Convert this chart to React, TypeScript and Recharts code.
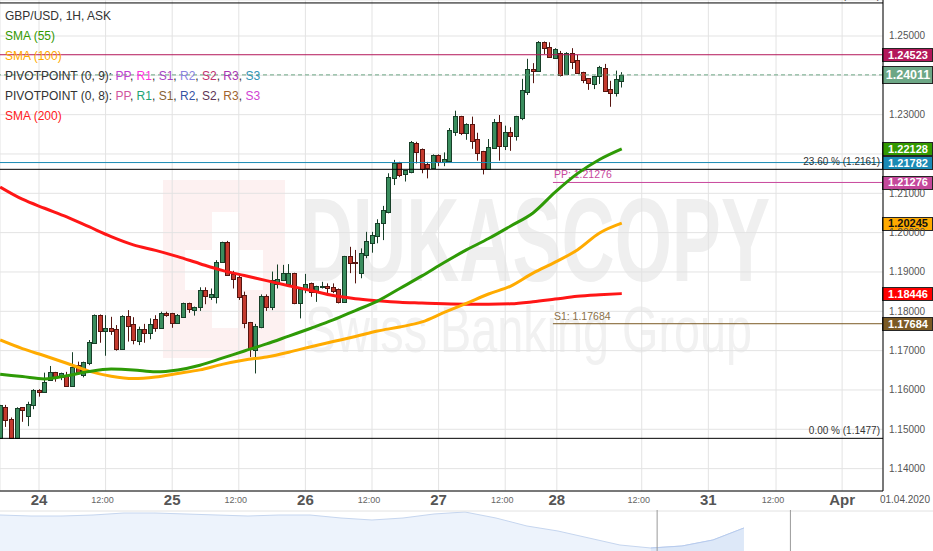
import React from 'react';
import {
  ComposedChart,
  Bar,
  Line,
  XAxis,
  YAxis,
  CartesianGrid,
  ReferenceLine,
  AreaChart,
  Area,
} from 'recharts';

const FONT = "'Liberation Sans', Arial, sans-serif";
const NARROW = "'Liberation Sans Narrow', 'Liberation Sans', Arial, sans-serif";

// hourly candles, first one sits 7 hours before the "24" tick
const FIRST_HOUR = -7;

const opens = [
  1.1477, 1.1557, 1.1526, 1.1478, 1.1556, 1.1534, 1.1562, 1.16, 1.1595, 1.1625,
  1.1645, 1.1632, 1.1638, 1.161, 1.1663, 1.1638, 1.1668, 1.1719, 1.179, 1.1751,
  1.1757, 1.1754, 1.1704, 1.1788, 1.1767, 1.1725, 1.1755, 1.1746, 1.178, 1.1758,
  1.1796, 1.1795, 1.1769, 1.1786, 1.182, 1.1803, 1.181, 1.1854, 1.1837, 1.1837,
  1.1925, 1.1977, 1.1895, 1.1886, 1.1841, 1.1772, 1.1701, 1.1759, 1.184, 1.181,
  1.1869, 1.188, 1.1869, 1.1897, 1.182, 1.1856, 1.1871, 1.185, 1.1861, 1.1865,
  1.1862, 1.1856, 1.1824, 1.1941, 1.1925, 1.1898, 1.1943, 1.1974, 1.1991, 1.2024,
  1.2053, 1.214, 1.2176, 1.2148, 1.2155, 1.2229, 1.2212, 1.2175, 1.2164, 1.2197,
  1.218, 1.2183, 1.2257, 1.2297, 1.2254, 1.2276, 1.2238, 1.2208, 1.2162, 1.2214,
  1.2282, 1.222, 1.2255, 1.2246, 1.2291, 1.2358, 1.2415, 1.2412, 1.2484, 1.2471,
  1.2443, 1.2456, 1.2403, 1.2456, 1.2439, 1.2409, 1.2392, 1.2377, 1.2397, 1.2418,
  1.2364, 1.2354, 1.2386,
];
const highs = [
  1.1562, 1.1562, 1.153, 1.1556, 1.1556, 1.157, 1.1602, 1.1602, 1.1644, 1.1661,
  1.1646, 1.1644, 1.1646, 1.1696, 1.1672, 1.1672, 1.1727, 1.1792, 1.1792, 1.179,
  1.1786, 1.1765, 1.179, 1.1803, 1.1785, 1.1761, 1.1768, 1.1782, 1.179, 1.1799,
  1.1799, 1.1796, 1.1793, 1.1822, 1.1822, 1.1812, 1.1861, 1.1861, 1.1858, 1.193,
  1.1977, 1.1979, 1.1903, 1.1892, 1.185, 1.1773, 1.1768, 1.1843, 1.1843, 1.1901,
  1.1919, 1.1918, 1.192, 1.1898, 1.1861, 1.1895, 1.1873, 1.1865, 1.1875, 1.1871,
  1.1871, 1.1858, 1.1941, 1.1964, 1.1956, 1.196, 1.2002, 1.2002, 1.2034, 1.2068,
  1.2151, 1.2185, 1.218, 1.2159, 1.2233, 1.2231, 1.2214, 1.218, 1.2199, 1.2199,
  1.2204, 1.2266, 1.231, 1.2297, 1.2278, 1.2295, 1.2254, 1.2208, 1.2238, 1.2289,
  1.2299, 1.2272, 1.2268, 1.2297, 1.2391, 1.2442, 1.2431, 1.2487, 1.2486, 1.2484,
  1.2469, 1.2462, 1.2459, 1.2469, 1.2452, 1.2409, 1.2392, 1.2399, 1.2424, 1.2429,
  1.2386, 1.2412, 1.2408,
];
const lows = [
  1.1477, 1.1506, 1.1477, 1.1477, 1.1519, 1.1508, 1.1551, 1.1583, 1.1595, 1.1623,
  1.1621, 1.1625, 1.1608, 1.161, 1.1642, 1.1632, 1.1663, 1.1717, 1.172, 1.1687,
  1.174, 1.17, 1.1704, 1.1723, 1.1716, 1.1714, 1.172, 1.1729, 1.1748, 1.1758,
  1.1786, 1.1758, 1.1768, 1.1786, 1.1796, 1.1789, 1.1801, 1.1818, 1.1829, 1.182,
  1.1925, 1.189, 1.1858, 1.1829, 1.1757, 1.1684, 1.1642, 1.1757, 1.1801, 1.1803,
  1.1858, 1.1878, 1.1862, 1.1818, 1.1782, 1.1846, 1.1837, 1.1824, 1.1858, 1.1846,
  1.1846, 1.182, 1.1824, 1.1897, 1.1871, 1.1884, 1.1935, 1.1949, 1.1973, 1.1981,
  1.2049, 1.2121, 1.2141, 1.213, 1.2151, 1.2176, 1.2151, 1.2138, 1.2162, 1.2169,
  1.2169, 1.218, 1.2246, 1.2248, 1.2236, 1.2213, 1.2183, 1.2148, 1.2162, 1.2213,
  1.2183, 1.221, 1.2208, 1.2234, 1.2286, 1.235, 1.238, 1.2412, 1.2454, 1.2447,
  1.2442, 1.2397, 1.2401, 1.2416, 1.2405, 1.238, 1.2363, 1.2365, 1.2378, 1.2361,
  1.232, 1.2346, 1.2369,
];
const closes = [
  1.1562, 1.1523, 1.1478, 1.1553, 1.1549, 1.1564, 1.16, 1.1595, 1.1619, 1.1645,
  1.163, 1.1642, 1.161, 1.1659, 1.1646, 1.167, 1.1723, 1.179, 1.1751, 1.1757,
  1.175, 1.1704, 1.1788, 1.1763, 1.1727, 1.1755, 1.1746, 1.1767, 1.1758, 1.1796,
  1.179, 1.1769, 1.179, 1.182, 1.1805, 1.181, 1.1854, 1.1839, 1.1844, 1.1926,
  1.1975, 1.1892, 1.1882, 1.1837, 1.1769, 1.1704, 1.1763, 1.184, 1.181, 1.188,
  1.1881, 1.1898, 1.1897, 1.182, 1.1856, 1.1869, 1.185, 1.1864, 1.1864, 1.1858,
  1.1852, 1.1824, 1.1941, 1.1922, 1.1922, 1.1947, 1.1979, 1.1994, 1.2025, 1.2058,
  1.2141, 1.2178, 1.2147, 1.2159, 1.2231, 1.2206, 1.2161, 1.2164, 1.2197, 1.218,
  1.2187, 1.2261, 1.2297, 1.2254, 1.2276, 1.2234, 1.2202, 1.2162, 1.2217, 1.2282,
  1.222, 1.2257, 1.2246, 1.2297, 1.2363, 1.2416, 1.2412, 1.2484, 1.2469, 1.2447,
  1.2466, 1.2401, 1.2456, 1.2435, 1.2407, 1.2388, 1.238, 1.2399, 1.242, 1.2361,
  1.2354, 1.2391, 1.2401,
];

// moving averages read every 4 hours
const smaHours = [
  -7, -3, 1, 5, 9, 13, 17, 21, 25, 29, 33, 37, 41, 45, 49, 53, 57, 61, 65, 69, 73, 77, 81, 85,
  89, 93, 97, 101, 105,
];
const sma55 = [
  1.164, 1.1634, 1.1628, 1.1636, 1.1647, 1.1653, 1.1651, 1.1646, 1.1651, 1.1663, 1.1681,
  1.1699, 1.1717, 1.1737, 1.1757, 1.1778, 1.1802, 1.1826, 1.1858, 1.189, 1.1924, 1.1956,
  1.1985, 1.2017, 1.205, 1.2103, 1.215, 1.2186, 1.2213,
];
const sma100 = [
  1.1727, 1.1705, 1.1687, 1.1668, 1.1648, 1.1635, 1.1629, 1.1633, 1.1642, 1.1651, 1.1665,
  1.1676, 1.1684, 1.1696, 1.171, 1.1723, 1.1736, 1.175, 1.176, 1.1773, 1.1797, 1.182,
  1.1844, 1.1864, 1.1897, 1.1925, 1.1956, 1.1999, 1.2024,
];
const sma200 = [
  1.2116, 1.2085, 1.2062, 1.204, 1.2015, 1.199, 1.1969, 1.1955, 1.1939, 1.1921, 1.1904,
  1.1891, 1.1878, 1.1865, 1.1853, 1.184, 1.1832, 1.1827, 1.1823, 1.1821, 1.1819, 1.1818,
  1.1818, 1.1819, 1.1824, 1.1831, 1.1838, 1.1842, 1.1845,
];

const xTickHours = [0, 12, 24, 36, 48, 60, 72, 84, 93.3, 108.6, 120.6, 132.8, 144.7];
const xTickLabels = ['24', '12:00', '25', '12:00', '26', '12:00', '27', '12:00', '28', '12:00', '31', '12:00', 'Apr'];
const priceTicks = [1.14, 1.15, 1.16, 1.17, 1.18, 1.19, 1.2, 1.21, 1.22, 1.23, 1.24, 1.25];

const X_DOMAIN = [-7.027, 152.07];
const Y_DOMAIN = [1.13431, 1.25915];

// levels
const fibHigh = 1.2584;
const fib236 = 1.2161;
const fibLow = 1.1477;
const resistance = 1.24523;
const lastPrice = 1.24011;
const blueLevel = 1.21782;
const pivotPP = 1.21276;
const pivotS1 = 1.17684;
const pivotStartHour = 92.6;
const sma55Last = 1.22128;
const sma100Last = 1.20245;
const sma200Last = 1.18446;
const boxValues = [resistance, lastPrice, sma55Last, blueLevel, pivotPP, sma100Last, sma200Last, pivotS1];

// navigator strip at the bottom
const navValues = [36, 35, 35, 36, 38, 38, 37, 36, 35, 36, 36, 33, 31, 33, 37, 39, 33, 25, 20, 13, 6, 3, 5, 11, 23];
const navWindow = [21.2, 25.5];
const NAV_SPAN = 30.1;

const rows = opens.map((open, i) => ({
  h: FIRST_HOUR + i,
  open,
  high: highs[i],
  low: lows[i],
  close: closes[i],
}));

const smaRows = smaHours.map((h, i) => ({
  h,
  sma55: sma55[i],
  sma100: sma100[i],
  sma200: sma200[i],
}));

const navRows = navValues.map((v, i) => ({ i, v, sel: i >= 21 ? v : null }));

function Candle(props: any) {
  const { x, y, width, height, payload } = props;
  if (!payload || height == null) return null;
  const { open, close, high, low } = payload;
  const top = Math.min(y, y + height);
  const span = Math.abs(height);
  const range = high - low || 1;
  const py = (v: number) => top + ((high - v) / range) * span;
  const up = close >= open;
  const c = Math.round(x + width / 2);
  const bTop = Math.round(py(Math.max(open, close))) + 0.5;
  const bBot = Math.max(bTop + 1, Math.round(py(Math.min(open, close))) + 0.5);
  const dark = up ? '#173f28' : '#561510';
  return (
    <g>
      <line x1={c + 0.5} x2={c + 0.5} y1={top} y2={top + span} stroke={dark} strokeWidth={1} />
      <rect
        x={c - 1.5}
        y={bTop}
        width={4}
        height={bBot - bTop}
        fill={up ? '#3a8d5e' : '#c43a2e'}
        stroke={dark}
        strokeWidth={1}
      />
    </g>
  );
}

function TimeTick(props: any) {
  const { x, y, payload } = props;
  const idx = xTickHours.indexOf(payload.value);
  const label = xTickLabels[idx];
  if (label === '12:00') {
    return (
      <text x={x - 3} y={y + 12} textAnchor="middle" fontSize={9} fill="#666" fontFamily={FONT}>
        {label}
      </text>
    );
  }
  return (
    <text x={x} y={y + 14} textAnchor="middle" fontSize={15} fontWeight="bold" fill="#555" fontFamily={NARROW}>
      {label}
    </text>
  );
}

function PriceTick(props: any) {
  const { x, y, payload } = props;
  const v = payload.value;
  if (boxValues.some((b) => Math.abs(b - v) < 0.0016)) return null;
  return (
    <text x={x} y={y + 3.5} fontSize={10} fill="#555" fontFamily={FONT}>
      {v.toFixed(5)}
    </text>
  );
}

function LevelLabel(props: any) {
  const { viewBox, value, boxFill, boxInk, big, tag, tagColor, tagEnd } = props;
  if (!viewBox) return null;
  const right = viewBox.x + viewBox.width;
  const y = viewBox.y;
  const bh = big ? 17 : 13;
  return (
    <g>
      {tag ? (
        <text
          x={tagEnd ? right - 3 : viewBox.x + 1}
          y={y - 4}
          textAnchor={tagEnd ? 'end' : 'start'}
          fontSize={tagEnd ? 10 : 10.5}
          fill={tagColor}
          fontFamily={FONT}
        >
          {tag}
        </text>
      ) : null}
      {boxFill ? (
        <g>
          <rect x={right - 0.5} y={Math.round(y - bh / 2) + 0.5} width={50} height={bh} fill={boxFill} stroke="#262626" />
          <text
            x={right + 25}
            y={y + (big ? 4.5 : 4)}
            textAnchor="middle"
            fontSize={big ? 12.5 : 11}
            fontWeight="bold"
            fill={boxInk || '#fff'}
            fontFamily={FONT}
          >
            {value.toFixed(5)}
          </text>
        </g>
      ) : null}
    </g>
  );
}

function Watermark() {
  return (
    <svg width={933} height={491} style={{ position: 'absolute', left: 0, top: 0 }}>
      <rect x={163} y={180} width={122} height={178} fill="#fdf1f1" />
      <rect x={212} y={212} width={26} height={116} fill="#fff" />
      <rect x={185} y={250} width={78} height={40} fill="#fff" />
      <text x={300} y={281} fontSize={118} fontWeight="bold" fill="#efefef" fontFamily={FONT} textLength={470} lengthAdjust="spacingAndGlyphs">
        DUKASCOPY
      </text>
      <text x={305} y={352} fontSize={64} fill="#f1f1f1" fontFamily={FONT} textLength={447} lengthAdjust="spacingAndGlyphs">
        Swiss Banking Group
      </text>
    </svg>
  );
}

const piv9 = [
  ['PP', '#c043d0'],
  ['R1', '#ff33dd'],
  ['S1', '#a745c4'],
  ['R2', '#8a85e0'],
  ['S2', '#c03470'],
  ['R3', '#a836b0'],
  ['S3', '#3193b5'],
];
const piv8 = [
  ['PP', '#d0559f'],
  ['R1', '#22a374'],
  ['S1', '#866232'],
  ['R2', '#3553a3'],
  ['S2', '#5e3556'],
  ['R3', '#a0642e'],
  ['S3', '#d043d3'],
];

function PivotLegend({ y, head, items }: { y: number; head: string; items: string[][] }) {
  return (
    <text x={5} y={y} fontSize={12} fontFamily={FONT} fill="#333">
      <tspan>{head}</tspan>
      {items.map(([name, color], i) => (
        <React.Fragment key={name}>
          <tspan fill={color}>{name}</tspan>
          {i < items.length - 1 ? <tspan>, </tspan> : null}
        </React.Fragment>
      ))}
    </text>
  );
}

function Legend() {
  return (
    <svg width={400} height={130} style={{ position: 'absolute', left: 0, top: 0, pointerEvents: 'none' }}>
      <text x={5} y={20} fontSize={12} fontFamily={FONT} fill="#333">GBP/USD, 1H, ASK</text>
      <text x={5} y={40} fontSize={12} fontFamily={FONT} fill="#339900">SMA (55)</text>
      <text x={5} y={60} fontSize={12} fontFamily={FONT} fill="#ffaa00">SMA (100)</text>
      <PivotLegend y={80} head="PIVOTPOINT (0, 9): " items={piv9} />
      <PivotLegend y={100} head="PIVOTPOINT (0, 8): " items={piv8} />
      <text x={5} y={120} fontSize={12} fontFamily={FONT} fill="#ff2020">SMA (200)</text>
    </svg>
  );
}

export default function App() {
  return (
    <div
      style={{
        position: 'fixed',
        left: 0,
        top: 0,
        width: 933,
        height: 551,
        overflow: 'hidden',
        background: '#fff',
        fontFamily: FONT,
      }}
    >
      <Watermark />
      <div style={{ position: 'absolute', left: 0, top: 0 }}>
        <ComposedChart width={933} height={521} data={rows} margin={{ top: 0, right: 0, bottom: 0, left: 0 }}>
          <CartesianGrid stroke="#e3e3e3" />
          <XAxis
            dataKey="h"
            type="number"
            domain={X_DOMAIN}
            ticks={xTickHours}
            allowDataOverflow
            interval={0}
            height={30}
            tickLine={false}
            tickSize={0}
            tickMargin={0}
            axisLine={{ stroke: '#000' }}
            tick={<TimeTick />}
          />
          <YAxis
            orientation="right"
            type="number"
            domain={Y_DOMAIN}
            ticks={priceTicks}
            allowDataOverflow
            width={50}
            tickLine={false}
            tickSize={0}
            tickMargin={6}
            axisLine={{ stroke: '#000' }}
            tick={<PriceTick />}
          />
          <ReferenceLine y={resistance} stroke="#b3175a" label={<LevelLabel value={resistance} boxFill="#b3175a" />} />
          <ReferenceLine
            y={lastPrice}
            stroke="#6da786"
            strokeDasharray="4 3"
            label={<LevelLabel value={lastPrice} boxFill="#6da786" big />}
          />
          <ReferenceLine y={blueLevel} stroke="#1a8ab4" label={<LevelLabel value={blueLevel} boxFill="#1a8ab4" />} />
          <ReferenceLine
            y={fibHigh}
            stroke="#000"
            label={<LevelLabel tag="100.00 % (1.2584)" tagColor="#333" tagEnd />}
          />
          <ReferenceLine y={fib236} stroke="#000" label={<LevelLabel tag="23.60 % (1.2161)" tagColor="#333" tagEnd />} />
          <ReferenceLine y={fibLow} stroke="#000" label={<LevelLabel tag="0.00 % (1.1477)" tagColor="#333" tagEnd />} />
          <ReferenceLine
            segment={[
              { x: pivotStartHour, y: pivotPP },
              { x: X_DOMAIN[1], y: pivotPP },
            ]}
            stroke="#c8489c"
            label={<LevelLabel value={pivotPP} boxFill="#c4489b" tag="PP: 1.21276" tagColor="#c8489c" />}
          />
          <ReferenceLine
            segment={[
              { x: pivotStartHour, y: pivotS1 },
              { x: X_DOMAIN[1], y: pivotS1 },
            ]}
            stroke="#7b5a24"
            label={<LevelLabel value={pivotS1} boxFill="#7b5a24" tag="S1: 1.17684" tagColor="#8a7048" />}
          />
          <Bar
            dataKey={(d: any) => [d.low, d.high]}
            barSize={5}
            shape={(p: any) => <Candle {...p} />}
            isAnimationActive={false}
          />
          <Line data={smaRows} dataKey="sma200" stroke="#ff1616" strokeWidth={3} dot={false} activeDot={false} type="monotone" isAnimationActive={false} />
          <Line data={smaRows} dataKey="sma100" stroke="#ffab00" strokeWidth={3} dot={false} activeDot={false} type="monotone" isAnimationActive={false} />
          <Line data={smaRows} dataKey="sma55" stroke="#2e9a06" strokeWidth={3} dot={false} activeDot={false} type="monotone" isAnimationActive={false} />
          <ReferenceLine y={sma55Last} stroke="none" label={<LevelLabel value={sma55Last} boxFill="#339900" />} />
          <ReferenceLine y={sma100Last} stroke="none" label={<LevelLabel value={sma100Last} boxFill="#ffaa00" boxInk="#111" />} />
          <ReferenceLine y={sma200Last} stroke="none" label={<LevelLabel value={sma200Last} boxFill="#ff0000" />} />
        </ComposedChart>
      </div>
      <Legend />
      <svg width={933} height={20} style={{ position: 'absolute', left: 0, top: 490 }}>
        <text x={930} y={13} textAnchor="end" fontSize={10} fill="#555" fontFamily={FONT}>
          01.04.2020
        </text>
      </svg>
      <div style={{ position: 'absolute', left: 0, top: 510 }}>
        <AreaChart width={933} height={41} data={navRows} margin={{ top: 0, right: 0, bottom: 0, left: 0 }}>
          <XAxis dataKey="i" type="number" domain={[0, NAV_SPAN]} hide />
          <YAxis domain={[0, 41]} hide />
          <ReferenceLine y={40} stroke="#e2e2e2" />
          <Area dataKey="v" type="linear" stroke="#c6d6ef" fill="#edf3fc" fillOpacity={1} isAnimationActive={false} />
          <Area dataKey="sel" type="linear" stroke="#b7cbee" fill="#dde8f8" fillOpacity={1} isAnimationActive={false} />
          <ReferenceLine x={navWindow[0]} stroke="#9a9a9a" />
          <ReferenceLine x={navWindow[1]} stroke="#9a9a9a" />
        </AreaChart>
      </div>
    </div>
  );
}
